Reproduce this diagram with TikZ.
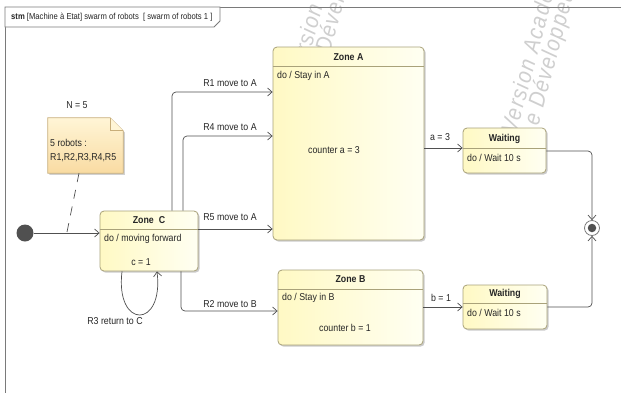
\documentclass[tikz,border=0pt]{standalone}
\usepackage{fontspec}
\setmainfont[FakeStretch=0.88]{Liberation Sans}
\usetikzlibrary{arrows.meta,shadows}
\definecolor{stB}{HTML}{A9A27A}
\definecolor{stY}{HTML}{FFF9C4}
\definecolor{stW}{HTML}{FFFFF2}
\definecolor{ln}{HTML}{505050}
\definecolor{frm}{HTML}{7A7A7A}
\definecolor{noteB}{HTML}{C8AE7A}
\definecolor{noteT}{HTML}{FFF5D6}
\definecolor{noteD}{HTML}{F9DBA2}
\definecolor{wmc}{HTML}{CFCFCF}
\begin{document}
\begin{tikzpicture}[x=1pt,y=-1pt,
  font=\fontsize{10}{12}\selectfont,
  state/.style={draw=stB, line width=0.8pt, rounded corners=4pt, left color=stY, right color=stW,
    drop shadow={shadow xshift=1.6pt, shadow yshift=-1.6pt, fill=black!45, opacity=0.45}, inner sep=0pt},
  sep/.style={draw=stB, line width=0.8pt},
  txt/.style={inner sep=0pt, text=black!85},
  tr/.style={draw=ln, line width=0.7pt, rounded corners=4pt, -{Straight Barb[length=4.5pt,width=8pt]}},
  wm/.style={inner sep=0pt, text=wmc, font=\fontsize{23}{27}\selectfont\itshape\addfontfeature{LetterSpace=6}, rotate=75, anchor=base west}
]
\useasboundingbox (0,0) rectangle (621,392);
\clip (0,0) rectangle (621,392);
\fill[white] (0,0) rectangle (621,392);

% watermarks
\node[wm] (wm1) at (303,80) {Version Académique};
\node[wm] (wm2) at (322,84) {Le Développeur};
\node[wm] (wm3) at (516,135) {Version Académique};
\node[wm] (wm4) at (535,139) {Le Développeur};

% frame
\draw[frm, line width=0.8pt] (5,420) -- (5,7) -- (640,7);
\draw[frm, line width=0.8pt, fill=white] (5,7) -- (220,7) -- (220,21) -- (214,27) -- (5,27) -- cycle;
\node[txt, anchor=west, font=\fontsize{8.7}{10}\selectfont] (title) at (11,17) {\textbf{stm} [Machine à Etat] swarm of robots~ [ swarm of robots 1 ]};

% states
\node[state, minimum width=151pt, minimum height=193pt] (A) at (348.5,143.5) {};
\node[state, minimum width=98pt, minimum height=60pt] (C) at (149,241) {};
\node[state, minimum width=145pt, minimum height=75pt] (B) at (350.5,307.5) {};
\node[state, minimum width=83pt, minimum height=45pt] (WA) at (504.5,150.5) {};
\node[state, minimum width=84pt, minimum height=44pt] (WB) at (505,307) {};

\coordinate (hA) at (0,66);
\coordinate (hC) at (0,229);
\coordinate (hB) at (0,289);
\coordinate (hWA) at (0,148);
\coordinate (hWB) at (0,303);
\draw[sep] (A.west |- hA) -- (A.east |- hA);
\draw[sep] (C.west |- hC) -- (C.east |- hC);
\draw[sep] (B.west |- hB) -- (B.east |- hB);
\draw[sep] (WA.west |- hWA) -- (WA.east |- hWA);
\draw[sep] (WB.west |- hWB) -- (WB.east |- hWB);

\node[txt] (tA) at (348.5,57) {\textbf{Zone A}};
\node[txt, anchor=west] (dA) at (277,76) {do / Stay in A};
\node[txt] (cA) at (334,150) {counter a = 3};

\node[txt] (tC) at (149,220) {\textbf{Zone~ C}};
\node[txt, anchor=west] (dC) at (104,239) {do / moving forward};
\node[txt] (cC) at (141,262) {c = 1};

\node[txt] (tB) at (350.5,279) {\textbf{Zone B}};
\node[txt, anchor=west] (dB) at (282,298) {do / Stay in B};
\node[txt] (cB) at (345,328) {counter b = 1};

\node[txt] (tWA) at (504.5,138.5) {\textbf{Waiting}};
\node[txt, anchor=west] (dWA) at (467,158) {do / Wait 10 s};
\node[txt] (tWB) at (505,294) {\textbf{Waiting}};
\node[txt, anchor=west] (dWB) at (467,313) {do / Wait 10 s};

% initial and final
\node[circle, fill=ln, minimum size=17pt, inner sep=0pt] (init) at (25,233) {};
\node[circle, draw=frm, line width=0.8pt, fill=white, minimum size=15pt, inner sep=0pt] (fin) at (592,228) {};
\node[circle, fill=ln, minimum size=8.5pt, inner sep=0pt] (finI) at (592,228) {};

% note
\node[inner sep=0pt, minimum width=75pt, minimum height=55pt] (note) at (85.5,145.5) {};
\path[draw=noteB, line width=0.8pt, top color=noteT, bottom color=noteD,
  drop shadow={shadow xshift=1.6pt, shadow yshift=-1.6pt, fill=black!45, opacity=0.4}]
  (note.north west) -- ([xshift=-13pt]note.north east) -- ([yshift=-13pt]note.north east)
  -- (note.south east) -- (note.south west) -- cycle;
\draw[noteB, line width=0.8pt, fill=noteT] ([xshift=-13pt]note.north east) -- ([xshift=-13pt,yshift=-13pt]note.north east) -- ([yshift=-13pt]note.north east);
\node[txt] (N) at (77,105) {N = 5};
\node[txt, anchor=west] (n1) at (50,143) {5 robots :};
\node[txt, anchor=west] (n2) at (50,158) {R1,R2,R3,R4,R5};
\coordinate (nA) at (79,0);
\coordinate (nB) at (67,232);
\draw[ln, line width=0.7pt, dash pattern=on 9pt off 8pt] (note.south -| nA) -- (nB);

% transitions
\coordinate (x1) at (172,0);
\coordinate (x4) at (183,0);
\coordinate (x2) at (181,0);
\coordinate (y1) at (0,92);
\coordinate (y4) at (0,136);
\coordinate (y5) at (0,229);
\coordinate (y2) at (0,311);
\coordinate (yi) at (0,233);
\coordinate (ya) at (0,148);
\coordinate (yb) at (0,307);
\coordinate (yfa) at (0,151);
\coordinate (s1) at (122,0);
\coordinate (s2) at (157,0);

\draw[tr] (init.east) -- (C.west |- yi);
\draw[tr] (C.north -| x1) |- (A.west |- y1);
\draw[tr] (C.north -| x4) |- (A.west |- y4);
\draw[tr] (C.east |- y5) -- (A.west |- y5);
\draw[tr] (C.south -| x2) |- (B.west |- y2);
\draw[tr] (C.south -| s1) .. controls +(-7,58) and +(7,58) .. (C.south -| s2);
\draw[tr] (A.east |- ya) -- (WA.west |- ya);
\draw[tr] (B.east |- yb) -- (WB.west |- yb);
\draw[tr] (WA.east |- yfa) -| (fin.north);
\draw[tr] (WB.east |- yb) -| (fin.south);

\node[txt] (l1) at (230,83) {R1 move to A};
\node[txt] (l4) at (230,127) {R4 move to A};
\node[txt] (l5) at (230,217) {R5 move to A};
\node[txt] (l2) at (230,304.5) {R2 move to B};
\node[txt] (l3) at (115,321) {R3 return to C};
\node[txt] (la) at (440,137) {a = 3};
\node[txt] (lb) at (441,298) {b = 1};
\end{tikzpicture}
\end{document}
